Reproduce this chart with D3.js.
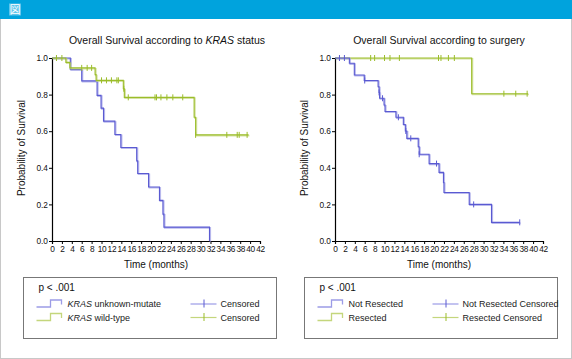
<!DOCTYPE html>
<html><head><meta charset="utf-8">
<script src="https://cdn.jsdelivr.net/npm/d3@7"></script>
<style>body{margin:0;background:#fff}svg{display:block;font-family:Arial,"Liberation Sans",sans-serif}</style>
</head><body>
<svg id="c" width="572" height="359"></svg>
<script>
// ---------- data ----------
const xTicks = d3.range(0, 43, 2);
const yTicks = [0, 0.2, 0.4, 0.6, 0.8, 1.0];

// Left chart: KRAS status
const krasMutTimes = [0, 3.7, 6.0, 9.1, 9.9, 10.4, 12.7, 13.9, 17.1, 17.3, 19.5, 21.7, 22.4, 22.6, 31.8];
const krasMutSurv  = [1, 0.9375, 0.875, 0.796, 0.726, 0.655, 0.582, 0.511, 0.438, 0.369, 0.295, 0.222, 0.147, 0.076, 0];
const krasMutEnd = 31.8;
const krasMutCensT = [];
const krasMutCensS = [];

const krasWtTimes = [0, 2.8, 3.6, 8.7, 8.9, 14.4, 14.6, 28.7, 29.0];
const krasWtSurv  = [1, 0.976, 0.946, 0.909, 0.878, 0.832, 0.785, 0.676, 0.58];
const krasWtEnd = 39.7;
const krasWtCensT = [0.9, 2.0, 6.0, 7.1, 8.0, 10.0, 11.0, 12.0, 13.1, 13.4, 14.5, 15.4, 20.8, 21.1, 22.0, 23.2, 24.4, 26.4, 29.0, 35.3, 37.4, 37.8, 39.4];
const krasWtCensS = [1, 1, 0.946, 0.946, 0.946, 0.878, 0.878, 0.878, 0.878, 0.878, 0.832, 0.785, 0.785, 0.785, 0.785, 0.785, 0.785, 0.785, 0.58, 0.58, 0.58, 0.58, 0.58];

// Right chart: surgery
const notResTimes = [0, 2.9, 3.9, 5.9, 8.7, 8.9, 9.0, 9.9, 10.1, 12.3, 13.8, 14.2, 14.5, 16.8, 17.0, 19.0, 21.0, 21.9, 22.0, 27.1, 31.6];
const notResSurv  = [1, 0.971, 0.907, 0.877, 0.843, 0.812, 0.78, 0.743, 0.708, 0.676, 0.637, 0.601, 0.561, 0.515, 0.474, 0.423, 0.375, 0.32, 0.265, 0.2, 0.102];
const notResEnd = 37.3;
const notResCensT = [0.9, 1.9, 6.0, 8.9, 9.6, 12.8, 14.3, 15.3, 17.0, 20.5, 28.0, 37.3];
const notResCensS = [1, 1, 0.877, 0.812, 0.78, 0.676, 0.601, 0.561, 0.474, 0.423, 0.2, 0.102];

const resTimes = [0, 27.6];
const resSurv  = [1, 0.805];
const resEnd = 39.0;
const resCensT = [7.2, 8.0, 10.0, 11.1, 13.0, 20.9, 21.4, 22.9, 24.1, 34.1, 36.5, 38.8];
const resCensS = [1, 1, 1, 1, 1, 1, 1, 1, 1, 0.805, 0.805, 0.805];

// ---------- styles ----------
const BLUE = "#5a5ad2", BLUE_L = "#9c9ce6", GREEN = "#9bbd2a", GREEN_L = "#c4d67c";

const svg = d3.select("#c");
// card
svg.append("rect").attr("x",0.5).attr("y",0.5).attr("width",571).attr("height",358).attr("fill","#fff").attr("stroke","#c8c8c8");
svg.append("rect").attr("x",0).attr("y",0).attr("width",572).attr("height",19).attr("fill","#00a3dd");
svg.append("rect").attr("x",9).attr("y",3.5).attr("width",12).attr("height",12).attr("fill","#5fc6ec");
svg.append("text").attr("x",15).attr("y",13.5).attr("text-anchor","middle").attr("fill","#fff")
  .attr("font-size",11).attr("font-family","'Noto Sans CJK JP',sans-serif").text("図");

function stepPath(x, y, times, surv, end) {
  let d = `M${x(times[0])},${y(surv[0])}`;
  for (let i = 1; i < times.length; i++) {
    d += `H${x(times[i])}V${y(surv[i])}`;
  }
  if (end > times[times.length-1]) d += `H${x(end)}`;
  return d;
}

function panel(cfg) {
  const x = d3.scaleLinear().domain([0, 42]).range([cfg.x0, cfg.x1]);
  const y = d3.scaleLinear().domain([0, 1]).range([241, 58]);
  const g = svg.append("g");
  // title
  const t = g.append("text").attr("x", cfg.titleX).attr("y", 44).attr("text-anchor","middle").attr("font-size",10.5).attr("fill","#111");
  cfg.title.forEach(p => t.append("tspan").attr("font-style", p.i ? "italic" : "normal").text(p.t));
  // axes
  const xa = g.append("g").attr("transform", `translate(0,241)`)
    .call(d3.axisBottom(x).tickValues(xTicks).tickSize(3).tickPadding(2).tickFormat(d3.format("d")));
  const ya = g.append("g").attr("transform", `translate(${cfg.x0},0)`)
    .call(d3.axisLeft(y).tickValues(yTicks).tickSize(3).tickPadding(1).tickFormat(d3.format(".1f")));
  [xa, ya].forEach(a => {
    a.select(".domain").attr("stroke","#000").attr("stroke-width",1.2);
    a.selectAll(".tick line").attr("stroke","#000");
    a.selectAll("text").attr("font-size",8.3).attr("fill","#111").attr("font-family","Arial,'Liberation Sans',sans-serif");
  });
  xa.selectAll("text").attr("letter-spacing","-0.3");
  // labels
  g.append("text").attr("x", (cfg.x0+cfg.x1)/2).attr("y", 268).attr("text-anchor","middle").attr("font-size",10).attr("fill","#111").text("Time (months)");
  g.append("text").attr("transform", `translate(${cfg.yLabX},148) rotate(-90)`).attr("text-anchor","middle").attr("font-size",10).attr("fill","#111").text("Probability of Survival");
  // curves
  cfg.curves.forEach(c => {
    const d = stepPath(x, y, c.times, c.surv, c.end);
    g.append("path").attr("d", d).attr("fill","none").attr("stroke", c.light).attr("stroke-width",1.6).attr("opacity",0.7).attr("transform","translate(0.8,0.8)");
    g.append("path").attr("d", d).attr("fill","none").attr("stroke", c.color).attr("stroke-width",1.1);
    g.selectAll(null).data(d3.zip(c.censT, c.censS)).join("line")
      .attr("x1", d => x(d[0])).attr("x2", d => x(d[0]))
      .attr("y1", d => y(d[1]) - 3).attr("y2", d => y(d[1]) + 3)
      .attr("stroke", c.color).attr("stroke-width",1);
  });
  // legend
  const L = cfg.leg;
  g.append("rect").attr("x", L.x).attr("y", 277.5).attr("width", L.w).attr("height", 61).attr("fill","none").attr("stroke","#777").attr("stroke-width",1);
  g.append("text").attr("x", L.x+15).attr("y", 290.5).attr("font-size",10).attr("fill","#111").text("p < .001");
  L.rows.forEach((r, i) => {
    const cy = 303.5 + i*13.5;
    const ix = L.x + 13;
    g.append("path").attr("d", `M${ix},${cy+3.5}H${ix+14}V${cy-3.5}H${ix+25}V${cy+1}`)
      .attr("fill","none").attr("stroke", r.light).attr("stroke-width",1.3);
    const tx = g.append("text").attr("x", ix+31).attr("y", cy+3.5).attr("font-size",9).attr("fill","#222");
    r.label.forEach(p => tx.append("tspan").attr("font-style", p.i ? "italic" : "normal").text(p.t));
    const cx = L.x + L.cx;
    g.append("line").attr("x1", cx).attr("x2", cx+26).attr("y1", cy+0.5).attr("y2", cy+0.5).attr("stroke", r.light).attr("stroke-width",1.2);
    g.append("line").attr("x1", cx+13.5).attr("x2", cx+13.5).attr("y1", cy-4).attr("y2", cy+4).attr("stroke", r.color).attr("stroke-width",1);
    g.append("text").attr("x", cx+30).attr("y", cy+3.5).attr("font-size",9).attr("fill","#222").text(r.cens);
  });
}

panel({
  x0: 52, x1: 260, titleX: 167, yLabX: 25,
  title: [{t:"Overall Survival according to "},{t:"KRAS", i:true},{t:" status"}],
  curves: [
    {times: krasMutTimes, surv: krasMutSurv, end: krasMutEnd, censT: krasMutCensT, censS: krasMutCensS, color: BLUE, light: BLUE_L},
    {times: krasWtTimes, surv: krasWtSurv, end: krasWtEnd, censT: krasWtCensT, censS: krasWtCensS, color: GREEN, light: GREEN_L}
  ],
  leg: {x: 23.5, w: 253, cx: 167, rows: [
    {label: [{t:"KRAS", i:true},{t:" unknown-mutate"}], cens: "Censored", color: BLUE, light: BLUE_L},
    {label: [{t:"KRAS", i:true},{t:" wild-type"}], cens: "Censored", color: GREEN, light: GREEN_L}
  ]}
});

panel({
  x0: 335, x1: 543, titleX: 439, yLabX: 308,
  title: [{t:"Overall Survival according to surgery"}],
  curves: [
    {times: resTimes, surv: resSurv, end: resEnd, censT: resCensT, censS: resCensS, color: GREEN, light: GREEN_L},
    {times: notResTimes, surv: notResSurv, end: notResEnd, censT: notResCensT, censS: notResCensS, color: BLUE, light: BLUE_L}
  ],
  leg: {x: 304.5, w: 253, cx: 128, rows: [
    {label: [{t:"Not Resected"}], cens: "Not Resected Censored", color: BLUE, light: BLUE_L},
    {label: [{t:"Resected"}], cens: "Resected Censored", color: GREEN, light: GREEN_L}
  ]}
});
</script>
</body></html>
